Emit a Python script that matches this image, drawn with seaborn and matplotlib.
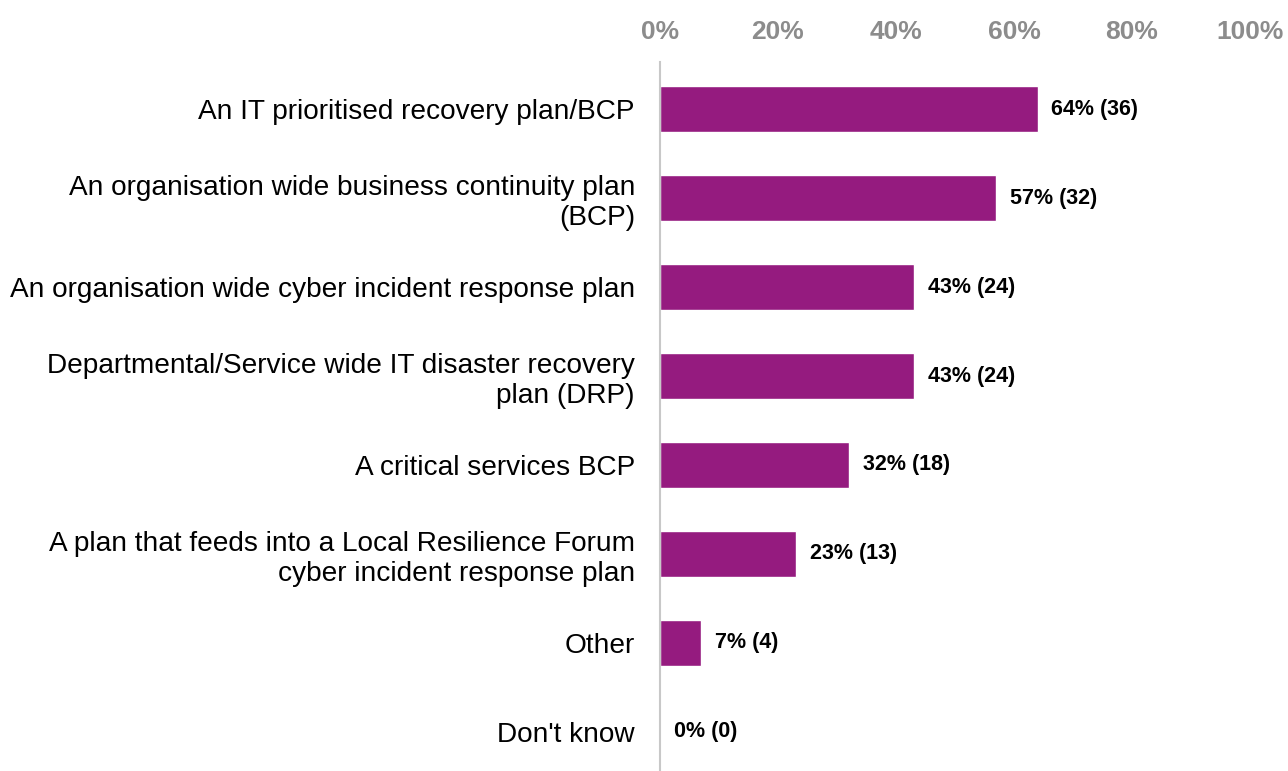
import matplotlib
matplotlib.use("Agg")
import matplotlib.pyplot as plt
import seaborn as sns
import pandas as pd

categories = [
    "An IT prioritised recovery plan/BCP",
    "An organisation wide business continuity plan\n(BCP)",
    "An organisation wide cyber incident response plan",
    "Departmental/Service wide IT disaster recovery\nplan (DRP)",
    "A critical services BCP",
    "A plan that feeds into a Local Resilience Forum\ncyber incident response plan",
    "Other",
    "Don't know",
]
percent = [64, 57, 43, 43, 32, 23, 7, 0]
counts = [36, 32, 24, 24, 18, 13, 4, 0]
tick_values = [0, 20, 40, 60, 80, 100]
tick_labels = ["0%", "20%", "40%", "60%", "80%", "100%"]

sns.set_theme(style="white")
plt.rcParams["font.family"] = ["Liberation Sans", "DejaVu Sans"]

df = pd.DataFrame({"category": categories, "percent": percent})

fig = plt.figure(figsize=(12.88, 7.71), dpi=100)
ax = fig.add_axes([660 / 1288, 0.0, 590 / 1288, 1 - 62 / 771])

sns.barplot(data=df, x="percent", y="category", orient="h", color="#951B7F",
            saturation=1, width=0.52, ax=ax)

ax.set_xlim(0, 100)
ax.set_ylim(7.44, -0.53)
ax.xaxis.tick_top()
ax.set_xticks(tick_values)
ax.set_xticklabels(tick_labels, fontsize=19, fontweight="bold", color="#8C8C8C")
ax.tick_params(axis="x", length=0, pad=13)
ax.tick_params(axis="y", length=0, pad=18)
for lbl in ax.get_yticklabels():
    lbl.set_fontsize(20.2)
    lbl.set_color("#000000")
    lbl.set_linespacing(1.2)
    lbl.set_horizontalalignment("right")

ax.set_xlabel("")
ax.set_ylabel("")
for side in ["top", "right", "bottom"]:
    ax.spines[side].set_visible(False)
ax.spines["left"].set_color("#C8C8C8")
ax.spines["left"].set_linewidth(1.5)

for i, (p, c) in enumerate(zip(percent, counts)):
    ax.annotate(f"{p}% ({c})", xy=(p, i), xytext=(10, 0), textcoords="offset points",
                va="center", ha="left", fontsize=15.5, fontweight="bold", color="#000000")

fig.savefig("out.png", dpi=100)
